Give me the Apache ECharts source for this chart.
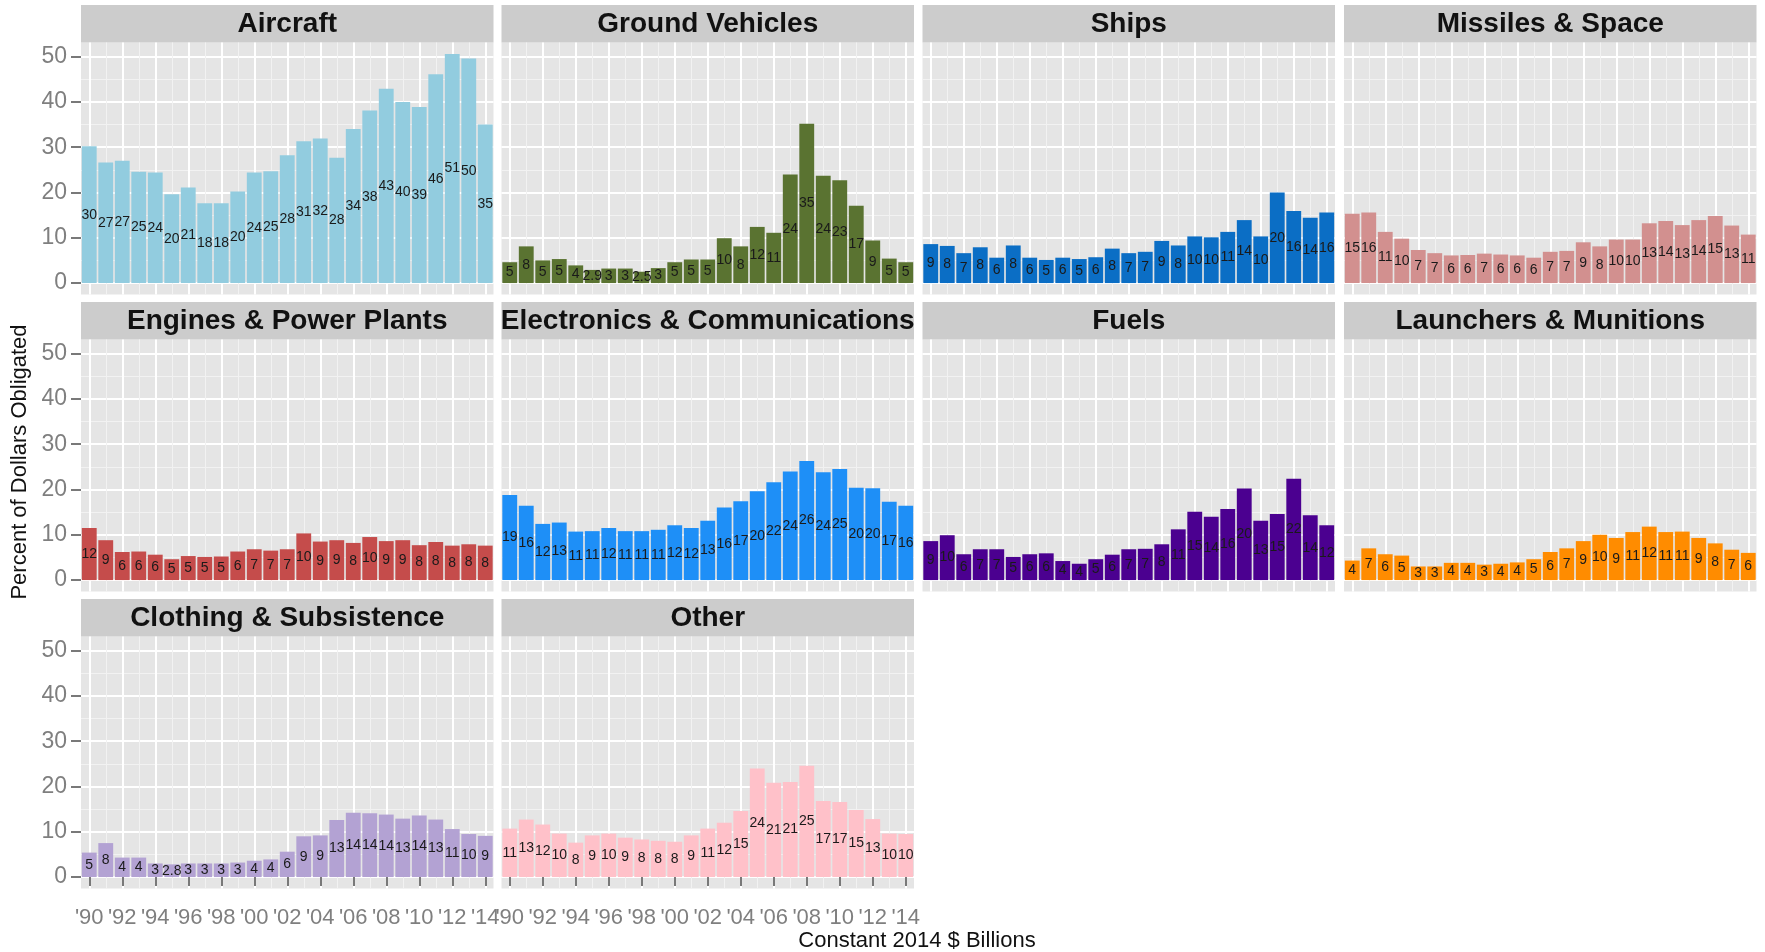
<!DOCTYPE html>
<html>
<head>
<meta charset="utf-8">
<script src="https://cdn.jsdelivr.net/npm/echarts@6/dist/echarts.min.js"></script>
<style>
html,body{margin:0;padding:0;background:#ffffff;}
#chart{width:1765px;height:952px;}
</style>
</head>
<body>
<div id="chart"></div>
<script>
// ---- data ----
const years = ['1990','1991','1992','1993','1994','1995','1996','1997','1998','1999','2000','2001','2002',
               '2003','2004','2005','2006','2007','2008','2009','2010','2011','2012','2013','2014'];

const aircraft    = [30.2,26.6,27.0,24.6,24.4,19.6,21.1,17.6,17.6,20.2,24.4,24.7,28.2,31.3,31.9,27.7,34.0,38.1,42.9,40.0,38.9,46.1,50.6,49.6,35.0];
const groundVeh   = [4.6,8.1,5.0,5.3,3.9,2.9,3.2,3.2,2.5,3.3,4.6,5.2,5.2,9.9,8.1,12.4,11.1,24.0,35.2,23.7,22.7,17.1,9.4,5.4,4.6];
const ships       = [8.6,8.2,6.6,7.9,5.6,8.3,5.6,5.1,5.6,5.3,5.7,7.6,6.6,6.9,9.3,8.3,10.3,10.1,11.3,13.9,10.3,20.0,15.9,14.4,15.6];
const missiles    = [15.3,15.6,11.3,9.8,7.3,6.6,6.1,6.2,6.5,6.3,6.1,5.6,6.9,7.1,9.0,8.1,9.6,9.6,13.2,13.7,12.8,13.9,14.8,12.7,10.7];
const engines     = [11.5,8.8,6.2,6.3,5.6,4.6,5.3,5.1,5.2,6.3,6.8,6.5,6.8,10.3,8.5,8.8,8.2,9.5,8.6,8.8,7.7,8.4,7.6,7.9,7.6];
const electronics = [18.8,16.4,12.4,12.7,10.7,10.8,11.5,10.8,10.8,11.1,12.1,11.5,13.1,16.0,17.4,19.6,21.6,24.0,26.3,23.8,24.5,20.4,20.3,17.3,16.4];
const fuels       = [8.6,9.9,5.7,6.8,6.8,5.1,5.7,5.9,4.2,3.6,4.6,5.6,6.8,6.9,7.9,11.2,15.1,14.0,15.7,20.2,13.1,14.6,22.4,14.3,12.1];
const launchers   = [4.3,7.0,5.7,5.4,3.0,3.0,3.8,3.8,3.4,3.6,3.9,4.6,6.2,7.0,8.6,10.0,9.3,10.6,11.8,10.6,10.7,9.3,8.1,6.7,6.0];
const clothing    = [5.4,7.5,4.3,4.3,3.0,2.8,3.0,3.0,3.0,3.2,3.6,3.9,5.6,9.0,9.2,12.6,14.2,14.1,13.8,12.9,13.6,12.7,10.6,9.5,9.1];
const other       = [10.7,12.7,11.6,9.6,7.6,9.2,9.6,8.7,8.3,8.0,7.8,9.2,10.7,12.0,14.6,24.0,20.8,21.0,24.6,16.8,16.6,14.8,12.8,9.6,9.5];

const panelNames  = ['Aircraft','Ground Vehicles','Ships','Missiles & Space',
                     'Engines & Power Plants','Electronics & Communications','Fuels','Launchers & Munitions',
                     'Clothing & Subsistence','Other'];
const panelData   = [aircraft, groundVeh, ships, missiles, engines, electronics, fuels, launchers, clothing, other];
const panelColors = ['#92CCDF','#5A7331','#0B6EC5','#D2908F','#C54C4B','#1E8FF7','#4B0090','#FF8C00','#B3A2D3','#FFC1C9'];

const yTicks      = [0, 10, 20, 30, 40, 50];
const yMinorTicks = [5, 15, 25, 35, 45];
const xTitle = 'Constant 2014 $ Billions';
const yTitle = 'Percent of Dollars Obligated';

// ---- layout ----
const FONT = "'Liberation Sans', Arial, Helvetica, sans-serif";
const colLeft = [81, 501.5, 922.5, 1344];
const colWidth = 412.5;
const stripTop = [5, 302, 599];
const stripH = 37.5;
const plotH = 252;

const allMax = Math.max.apply(null, panelData.map(d => Math.max.apply(null, d)));
const yMin = -allMax * 0.05;
const yMax = allMax * 1.05;

const evenFn = (i) => i % 2 === 0;
const oddFn = (i) => i % 2 === 1;
const tickColor = '#4D4D4D';

const grids = [], xAxes = [], yAxes = [], series = [], graphics = [];

panelNames.forEach((name, i) => {
  const col = i % 4, row = Math.floor(i / 4);
  const left = colLeft[col];
  const top = stripTop[row] + stripH;
  const showX = row === 2;
  const showY = col === 0;

  grids.push({
    left: left, top: top, width: colWidth, height: plotH,
    show: true, backgroundColor: '#E5E5E5', borderWidth: 0, containLabel: false
  });

  xAxes.push({
    gridIndex: i, type: 'category', data: years, boundaryGap: true,
    axisLine: { show: false },
    axisTick: { show: showX, interval: evenFn, alignWithLabel: true, length: 9,
                lineStyle: { color: tickColor, width: 1.5 } },
    axisLabel: { show: showX, interval: evenFn, margin: 18, fontSize: 22, color: '#7F7F7F',
                 fontFamily: FONT, formatter: (v) => "'" + v.slice(2) },
    splitLine: { show: true, interval: evenFn, alignWithLabel: true,
                 lineStyle: { color: '#FFFFFF', width: 2 } }
  });
  xAxes.push({
    gridIndex: i, type: 'category', data: years, boundaryGap: true,
    axisLine: { show: false }, axisTick: { show: false }, axisLabel: { show: false },
    splitLine: { show: true, interval: oddFn, alignWithLabel: true,
                 lineStyle: { color: '#F2F2F2', width: 1 } }
  });

  yAxes.push({
    gridIndex: i, type: 'value', min: yMin, max: yMax,
    axisLine: { show: false },
    axisTick: { show: showY, customValues: yTicks, length: 10,
                lineStyle: { color: tickColor, width: 1.5 } },
    axisLabel: { show: showY, customValues: yTicks, margin: 14, fontSize: 23,
                 color: '#7F7F7F', fontFamily: FONT },
    splitLine: { show: true, lineStyle: { color: '#FFFFFF', width: 2 } }
  });
  yAxes.push({
    gridIndex: i, type: 'value', min: yMin, max: yMax, position: 'left',
    axisLine: { show: false },
    axisTick: { show: false, customValues: yMinorTicks },
    axisLabel: { show: false, customValues: yMinorTicks },
    splitLine: { show: true, lineStyle: { color: '#F2F2F2', width: 1 } }
  });

  series.push({
    type: 'bar', name: name,
    xAxisIndex: 2 * i, yAxisIndex: 2 * i,
    data: panelData[i],
    barCategoryGap: '10%',
    itemStyle: { color: panelColors[i] },
    label: {
      show: true, position: 'inside', fontSize: 14, color: '#1A1A1A',
      fontFamily: FONT, textBorderWidth: 0,
      formatter: (p) => p.value < 3 ? p.value.toFixed(1) : String(Math.round(p.value))
    },
    emphasis: { disabled: true }
  });

  graphics.push({
    type: 'rect', silent: true,
    shape: { x: left, y: stripTop[row], width: colWidth, height: stripH },
    style: { fill: '#CCCCCC' }
  });
  graphics.push({
    type: 'text', silent: true,
    x: left + colWidth / 2, y: stripTop[row] + stripH / 2 + 1,
    style: { text: name, fill: '#111111', fontFamily: FONT, fontWeight: 'bold',
             fontSize: 28, align: 'center', verticalAlign: 'middle' }
  });
});

graphics.push({
  type: 'text', silent: true, x: 917, y: 941,
  style: { text: xTitle, fill: '#111111', fontFamily: FONT, fontSize: 22,
           align: 'center', verticalAlign: 'middle' }
});
graphics.push({
  type: 'text', silent: true, x: 20, y: 462, rotation: Math.PI / 2,
  style: { text: yTitle, fill: '#111111', fontFamily: FONT, fontSize: 22,
           align: 'center', verticalAlign: 'middle' }
});

const chart = echarts.init(document.getElementById('chart'), null, { renderer: 'canvas' });
chart.setOption({
  animation: false,
  backgroundColor: '#FFFFFF',
  textStyle: { fontFamily: FONT },
  grid: grids,
  xAxis: xAxes,
  yAxis: yAxes,
  series: series,
  graphic: { elements: graphics }
});
</script>
</body>
</html>
